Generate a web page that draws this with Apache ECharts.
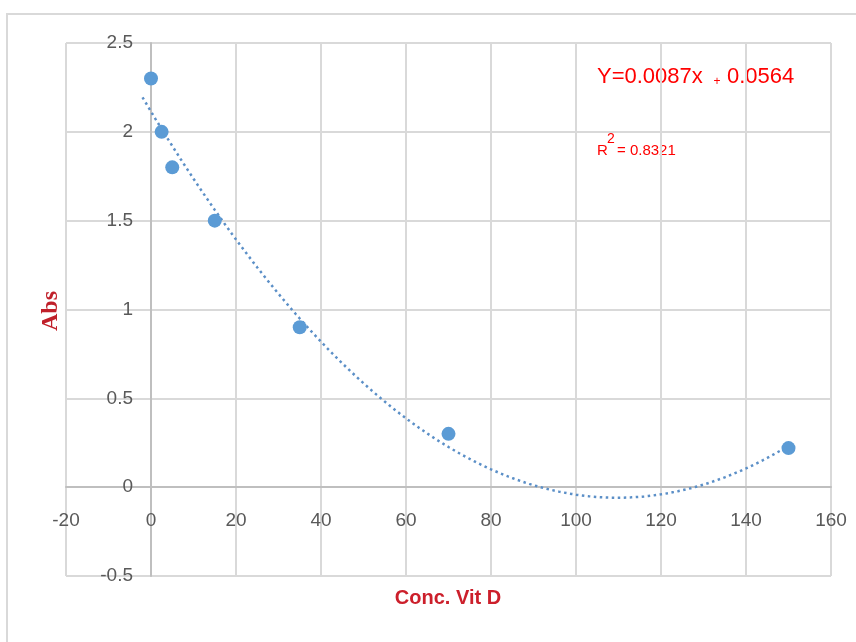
<!DOCTYPE html>
<html>
<head>
<meta charset="utf-8">
<script src="https://cdn.jsdelivr.net/npm/echarts@6/dist/echarts.min.js"></script>
<style>
  html, body { margin: 0; padding: 0; background: #ffffff; }
  #chart { width: 856px; height: 642px; }
</style>
</head>
<body>
<div id="chart"></div>
<script>
// Measured points: vitamin D concentration vs absorbance
const concVitD = [0, 2.5, 5, 15, 35, 70, 150];
const absorbance = [2.3, 2.0, 1.8, 1.5, 0.9, 0.3, 0.22];

// Axis scales
const xScale = { min: -20, max: 160, interval: 20 };
const yScale = { min: -0.5, max: 2.5, interval: 0.5 };

// Annotation text
const equationParts = ['Y=0.0087x', '+', '0.0564'];
const rSquaredParts = ['R', '2', '= 0.8321'];
const xTitle = 'Conc. Vit D';
const yTitle = 'Abs';

// Span of the polynomial trendline
const trendFrom = -2;
const trendTo = 150;

// Least-squares 2nd-order polynomial fit: y = a*x^2 + b*x + c
function quadraticFit(xs, ys) {
  let s = [0, 0, 0, 0, 0], t = [0, 0, 0];
  for (let i = 0; i < xs.length; i++) {
    let p = 1;
    for (let k = 0; k < 5; k++) { s[k] += p; if (k < 3) t[k] += p * ys[i]; p *= xs[i]; }
  }
  const m = [
    [s[0], s[1], s[2], t[0]],
    [s[1], s[2], s[3], t[1]],
    [s[2], s[3], s[4], t[2]]
  ];
  for (let i = 0; i < 3; i++) {
    for (let j = i + 1; j < 3; j++) {
      const f = m[j][i] / m[i][i];
      for (let k = i; k < 4; k++) m[j][k] -= f * m[i][k];
    }
  }
  const r = [0, 0, 0];
  for (let i = 2; i >= 0; i--) {
    let v = m[i][3];
    for (let k = i + 1; k < 3; k++) v -= m[i][k] * r[k];
    r[i] = v / m[i][i];
  }
  return { c: r[0], b: r[1], a: r[2] };
}

const fit = quadraticFit(concVitD, absorbance);
const trendPoints = [];
for (let x = trendFrom; x <= trendTo; x += 1) {
  trendPoints.push([x, fit.a * x * x + fit.b * x + fit.c]);
}
const scatterPoints = concVitD.map((x, i) => [x, absorbance[i]]);

const labelFont = {
  color: '#595959',
  fontSize: 19,
  fontFamily: '"Liberation Sans", Arial, sans-serif'
};
const gridLine = { lineStyle: { color: '#d9d9d9', width: 2 } };
const axisLine = { onZero: false, lineStyle: { color: '#bfbfbf', width: 2 } };

const gridBox = { left: 66, right: 25, top: 43, bottom: 66 };

const chart = echarts.init(document.getElementById('chart'), null, { renderer: 'canvas' });

chart.setOption({
  animation: false,
  backgroundColor: '#ffffff',
  grid: Object.assign({ containLabel: false, outerBoundsMode: 'none' }, gridBox),
  xAxis: {
    type: 'value',
    min: xScale.min, max: xScale.max, interval: xScale.interval,
    axisLine: axisLine,
    axisTick: { show: false },
    splitLine: gridLine,
    axisLabel: Object.assign({ margin: 24 }, labelFont)
  },
  yAxis: {
    type: 'value',
    min: yScale.min, max: yScale.max, interval: yScale.interval,
    axisLine: axisLine,
    axisTick: { show: false },
    splitLine: gridLine,
    axisLabel: Object.assign({ margin: 18 }, labelFont)
  },
  series: [
    {
      type: 'line',
      data: trendPoints,
      showSymbol: false,
      smooth: false,
      lineStyle: { color: '#5b8fc7', width: 2.5, type: [2.5, 3.5] },
      z: 2
    },
    {
      type: 'scatter',
      data: scatterPoints,
      symbolSize: 14,
      itemStyle: { color: '#5b9bd5', opacity: 1 },
      z: 3
    }
  ],
  graphic: [
    {
      type: 'rect', silent: true, z: -10,
      shape: { x: 7, y: 14, width: 900, height: 700 },
      style: { fill: 'none', stroke: '#d9d9d9', lineWidth: 2 }
    },
    {
      type: 'text', x: 51, y: 311, rotation: Math.PI / 2,
      style: {
        text: yTitle, fill: '#c0202a', align: 'center', verticalAlign: 'middle',
        font: 'bold 24px "Liberation Serif", "Times New Roman", serif'
      }
    },
    {
      type: 'text', x: 448, y: 598,
      style: {
        text: xTitle, fill: '#cc1f2b', align: 'center', verticalAlign: 'middle',
        font: 'bold 20px "Liberation Sans", Arial, sans-serif'
      }
    },
    {
      type: 'text', x: 597, y: 77,
      style: {
        text: equationParts[0], fill: '#ff0000', align: 'left', verticalAlign: 'middle',
        font: '22px "Liberation Sans", Arial, sans-serif'
      }
    },
    {
      type: 'text', x: 717, y: 82,
      style: {
        text: equationParts[1], fill: '#ff0000', align: 'center', verticalAlign: 'middle',
        font: '12px "Liberation Sans", Arial, sans-serif'
      }
    },
    {
      type: 'text', x: 727, y: 77,
      style: {
        text: equationParts[2], fill: '#ff0000', align: 'left', verticalAlign: 'middle',
        font: '22px "Liberation Sans", Arial, sans-serif'
      }
    },
    {
      type: 'text', x: 597, y: 151,
      style: {
        text: rSquaredParts[0], fill: '#ff0000', align: 'left', verticalAlign: 'middle',
        font: '15px "Liberation Sans", Arial, sans-serif'
      }
    },
    {
      type: 'text', x: 607, y: 139,
      style: {
        text: rSquaredParts[1], fill: '#ff0000', align: 'left', verticalAlign: 'middle',
        font: '14px "Liberation Sans", Arial, sans-serif'
      }
    },
    {
      type: 'text', x: 617, y: 151,
      style: {
        text: rSquaredParts[2], fill: '#ff0000', align: 'left', verticalAlign: 'middle',
        font: '15px "Liberation Sans", Arial, sans-serif'
      }
    }
  ]
});

// Both axes cross at the origin: shift each axis (line and labels) onto the zero of the other.
const origin = chart.convertToPixel({ gridIndex: 0 }, [0, 0]);
const plotBottom = 642 - gridBox.bottom;
const plotLeft = gridBox.left;
chart.setOption({
  xAxis: { offset: -(plotBottom - origin[1]) },
  yAxis: { offset: -(origin[0] - plotLeft) }
});
</script>
</body>
</html>
